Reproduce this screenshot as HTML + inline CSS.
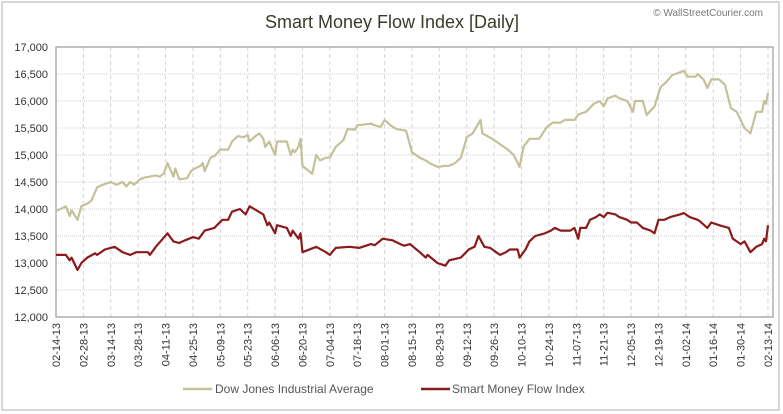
<!DOCTYPE html>
<html><head><meta charset="utf-8"><style>
body{margin:0;background:#fff;}
svg{display:block;font-family:"Liberation Sans",sans-serif;}
</style></head><body>
<svg id="chart" width="783" height="414">
<rect x="2" y="2" width="777" height="408" fill="#fff" stroke="#b0b0b0"/>
<text x="392" y="28" text-anchor="middle" font-size="18" fill="#3a3a2a">Smart Money Flow Index [Daily]</text>
<text x="763" y="16" text-anchor="end" font-size="10" fill="#777">© WallStreetCourier.com</text>
<g id="grid"></g><g id="axes"></g><g id="series"></g>
<g>
<line x1="183" y1="389" x2="212" y2="389" stroke="#c4c19a" stroke-width="2.5"/>
<text x="215" y="393" font-size="12" fill="#555">Dow Jones Industrial Average</text>
<line x1="421" y1="389" x2="450" y2="389" stroke="#8b1a1a" stroke-width="2.5"/>
<text x="452" y="393" font-size="12" fill="#555">Smart Money Flow Index</text>
</g>
</svg>
<script>
const xLabels=["02-14-13","02-28-13","03-14-13","03-28-13","04-11-13","04-25-13","05-09-13","05-23-13","06-06-13","06-20-13","07-04-13","07-18-13","08-01-13","08-15-13","08-29-13","09-12-13","09-26-13","10-10-13","10-24-13","11-07-13","11-21-13","12-05-13","12-19-13","01-02-14","01-16-14","01-30-14","02-13-14"];
const yTicks=[12000,12500,13000,13500,14000,14500,15000,15500,16000,16500,17000];
const djiaDays=[0,5,7,8,11,13,16,18,21,24,28,31,34,36,38,40,43,45,48,51,53,55,57,60,61,63,67,69,71,74,75,76,79,81,84,88,90,93,96,98,99,102,104,106,107,109,112,113,118,120,121,122,124,125,126,131,133,135,138,140,143,147,149,153,154,161,163,166,168,171,174,179,182,186,189,191,195,199,201,204,207,210,213,217,218,223,227,231,234,237,239,242,247,251,254,258,260,265,267,271,275,278,280,282,286,288,292,295,296,300,302,306,309,312,315,321,323,327,328,331,333,335,339,342,345,348,350,352,355,358,361,362,363,364];
const djiaValues=[13960,14050,13870,13980,13800,14050,14100,14150,14400,14450,14500,14450,14500,14420,14500,14450,14550,14580,14600,14620,14600,14650,14850,14600,14750,14550,14570,14700,14750,14800,14850,14700,14950,14980,15100,15100,15250,15350,15330,15370,15250,15350,15400,15300,15150,15250,15000,15250,15250,15000,15100,15050,15150,15300,14800,14650,15000,14900,14950,14950,15150,15280,15480,15470,15550,15580,15550,15520,15650,15550,15480,15450,15050,14950,14900,14850,14780,14800,14800,14850,14950,15330,15400,15650,15400,15300,15200,15100,15000,14780,15150,15300,15300,15520,15600,15600,15650,15650,15750,15800,15950,16000,15900,16050,16100,16050,16000,15800,16000,16000,15740,15900,16250,16350,16480,16560,16450,16450,16500,16400,16240,16400,16400,16300,15870,15800,15650,15500,15400,15800,15800,16000,15950,16150];
const smfiDays=[0,5,7,8,11,13,16,20,21,25,30,34,38,41,47,48,51,57,60,63,66,70,73,76,81,85,88,90,94,97,99,106,108,109,112,113,118,120,121,124,125,126,133,138,140,143,150,155,161,163,167,172,176,178,181,186,189,190,195,199,201,207,211,214,216,219,222,225,227,230,232,236,237,240,242,245,250,253,255,258,263,265,267,268,271,273,276,278,280,282,286,288,292,294,297,300,304,306,308,311,314,319,321,324,328,329,333,335,339,344,346,348,350,352,355,358,361,362,363,364];
const smfiValues=[13150,13150,13050,13100,12870,13000,13100,13180,13150,13250,13300,13200,13150,13200,13200,13150,13300,13550,13400,13370,13420,13480,13450,13600,13650,13800,13800,13950,14000,13900,14050,13900,13700,13750,13550,13700,13650,13500,13600,13450,13550,13200,13300,13200,13150,13280,13300,13280,13350,13330,13450,13420,13350,13320,13350,13200,13100,13150,13000,12950,13050,13100,13250,13300,13500,13300,13280,13200,13150,13200,13250,13250,13100,13250,13400,13500,13550,13600,13650,13600,13600,13650,13450,13650,13650,13800,13850,13900,13850,13930,13900,13850,13800,13750,13750,13650,13600,13550,13800,13800,13850,13900,13925,13850,13800,13780,13650,13750,13700,13650,13450,13400,13350,13400,13200,13300,13350,13450,13400,13700];

const L=56,R=768,T=47,B=317,W=773;
const xS=d=>L+d*(R-L)/364;
const yS=v=>B-(v-12000)*(B-T)/5000;
const NS="http://www.w3.org/2000/svg";
function mk(tag,attrs,parent){const e=document.createElementNS(NS,tag);for(const k in attrs)e.setAttribute(k,attrs[k]);parent.appendChild(e);return e;}
const grid=document.getElementById('grid'),axes=document.getElementById('axes'),series=document.getElementById('series');
yTicks.forEach((v,i)=>{
  if(v>12000&&v<17000){const g=mk('line',{x1:L,x2:W,y1:yS(v),y2:yS(v),stroke:'#cfcfcf','stroke-dasharray':'1,1'},grid);
  
  }
  const t=mk('text',{x:48,y:yS(v)+4,'text-anchor':'end','font-size':'11',fill:'#333'},axes);
  t.textContent=v.toLocaleString('en-US');
  
  
});
xLabels.forEach((s,i)=>{
  const x=xS(i*14);
  if(i>0&&i<xLabels.length){const g=mk('line',{x1:x,x2:x,y1:T,y2:B,stroke:'#d4d4d4','stroke-dasharray':'4,3'},grid);
  
  }
  const t=mk('text',{x:0,y:0,'text-anchor':'end','font-size':'11',fill:'#333',transform:`translate(${x+4},${B+6}) rotate(-90)`},axes);
  t.textContent=s;
  
  
});
const box=mk('rect',{x:L,y:T,width:W-L,height:B-T,fill:'none',stroke:'#9a9a9a','stroke-width':'1.2'},axes);


function line(days,vals,color,name){
  const p=mk('polyline',{points:days.map((d,i)=>xS(d).toFixed(1)+','+yS(vals[i]).toFixed(1)).join(' '),fill:'none',stroke:color,'stroke-width':'2.2','stroke-linejoin':'round'},series);
  
  
}
line(djiaDays,djiaValues,'#c4c19a','djia-line');
line(smfiDays,smfiValues,'#8b1a1a','smfi-line');
</script>
</body></html>
